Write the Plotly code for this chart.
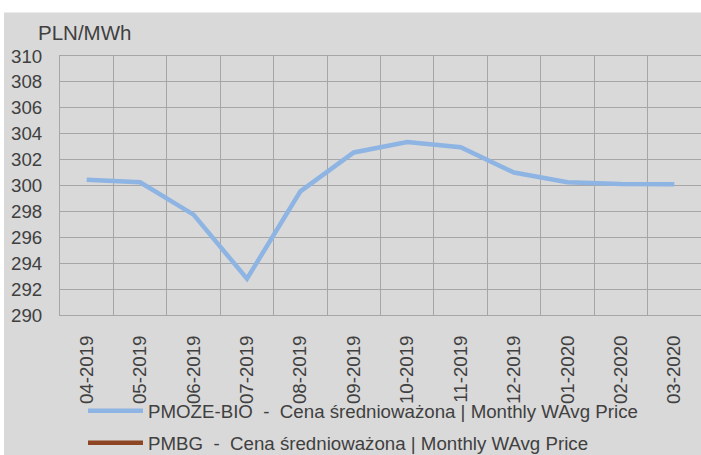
import plotly.graph_objects as go

months = ["04-2019", "05-2019", "06-2019", "07-2019", "08-2019", "09-2019",
          "10-2019", "11-2019", "12-2019", "01-2020", "02-2020", "03-2020"]
pmoze_bio = [300.45, 300.25, 297.75, 292.8, 299.55, 302.55,
             303.35, 302.95, 301.0, 300.25, 300.12, 300.1]
pmbg = [None] * 12

name_bio = "PMOZE-BIO  -  Cena średnioważona | Monthly WAvg Price"
name_bg = "PMBG  -  Cena średnioważona | Monthly WAvg Price"
y_title = "PLN/MWh"
y_ticks = [290, 292, 294, 296, 298, 300, 302, 304, 306, 308, 310]

TXT = "#404040"
GRID = "#a6a6a6"
BG = "#d9d9d9"
FONT = "Liberation Sans, Arial, sans-serif"
FS = 18.7

fig = go.Figure()
fig.add_trace(go.Scatter(x=months, y=pmoze_bio, mode="lines", name=name_bio,
                         line=dict(color="#8db4e2", width=4.5), legend="legend"))
fig.add_trace(go.Scatter(x=months, y=pmbg, mode="lines", name=name_bg,
                         line=dict(color="#8e4523", width=4.5), legend="legend2"))

PL, PR, PT, PB = 60, 0, 56, 140
W, H = 701, 455
pw, ph = W - PL - PR, H - PT - PB

def px_x(x):
    return (x - PL) / pw

def px_y(y):
    return (H - PB - y) / ph

fig.update_layout(
    width=W, height=H,
    margin=dict(l=PL, r=PR, t=PT, b=PB, autoexpand=False),
    paper_bgcolor=BG, plot_bgcolor=BG,
    font=dict(family=FONT, size=FS, color=TXT),
    showlegend=True,
    legend=dict(x=px_x(83), y=px_y(411), xanchor="left", yanchor="middle",
                bgcolor="rgba(0,0,0,0)", itemwidth=55,
                font=dict(family=FONT, size=FS, color=TXT)),
    legend2=dict(x=px_x(83), y=px_y(443), xanchor="left", yanchor="middle",
                 bgcolor="rgba(0,0,0,0)", itemwidth=55,
                 font=dict(family=FONT, size=FS, color=TXT)),
    xaxis=dict(type="category", tickson="boundaries", showgrid=True,
               gridcolor=GRID, gridwidth=1, tickangle=-90, ticks="",
               showline=True, linecolor=GRID, linewidth=1, mirror=True,
               ticklabelstandoff=12, range=[-0.5, 11.5], automargin=False,
               tickfont=dict(family=FONT, size=FS, color=TXT)),
    yaxis=dict(range=[290, 310], tickvals=y_ticks, showgrid=True,
               gridcolor=GRID, gridwidth=1, ticks="", zeroline=False,
               showline=True, linecolor=GRID, linewidth=1, mirror=True,
               ticklabelstandoff=13, automargin=False,
               tickfont=dict(family=FONT, size=FS, color=TXT)),
    shapes=[
        dict(type="rect", xref="paper", yref="paper", x0=-0.3, x1=1.2,
             y0=px_y(12.5), y1=px_y(-20), fillcolor="white", line_width=0,
             layer="below"),
        dict(type="rect", xref="paper", yref="paper", x0=-0.3, x1=px_x(4),
             y0=px_y(480), y1=px_y(-20), fillcolor="white", line_width=0,
             layer="below"),
    ],
    annotations=[dict(text=y_title, xref="paper", yref="paper",
                      x=px_x(36), y=px_y(32.5), xanchor="left", yanchor="middle",
                      showarrow=False, font=dict(family=FONT, size=20.5, color=TXT))],
)

fig.write_html("out.html", config={"displayModeBar": False},
               post_script="document.documentElement.style.overflow='hidden';"
                           "document.body.style.margin='0';document.body.style.padding='0';"
                           "document.body.style.overflow='hidden';"
                           "document.documentElement.style.background='#d9d9d9';"
                           "document.body.style.background='#d9d9d9';")
